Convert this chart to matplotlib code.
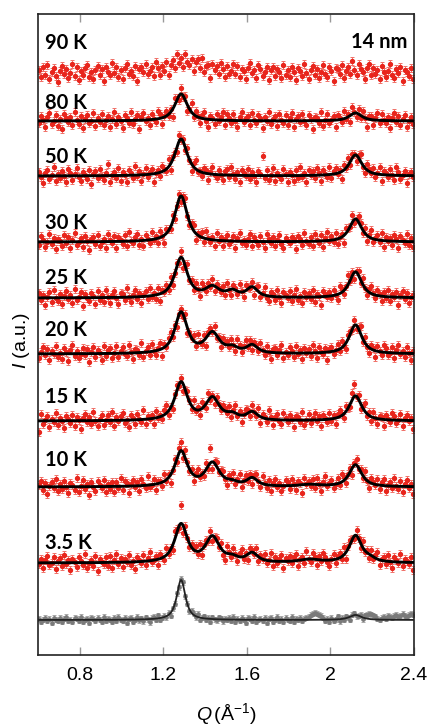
import numpy as np
import matplotlib
matplotlib.use('Agg')
import matplotlib.pyplot as plt

plt.rcParams['font.family'] = ['Liberation Sans', 'DejaVu Sans']
plt.rcParams['mathtext.fontset'] = 'custom'
plt.rcParams['mathtext.rm'] = 'Liberation Sans'
plt.rcParams['mathtext.it'] = 'Liberation Sans:italic'

# temperatures, top to bottom
temps = ['90 K', '80 K', '50 K', '30 K', '25 K', '20 K', '15 K', '10 K', '3.5 K']

# peaks of the fits (Q in 1/A), half widths
peak_q = [1.285, 1.32, 1.435, 1.53, 1.625, 1.90, 2.12, 2.19]
peak_hwhm = [0.036, 0.10, 0.040, 0.032, 0.032, 0.06, 0.036, 0.03]

# peak heights for each temperature (a.u.)
peak_heights = [
    [4, 9, 0, 0, 0, 0, 3, 0],        # 90 K (no fit drawn)
    [27, 0, 0, 0, 0, 0, 8, 0],       # 80 K
    [37, 0, 0, 0, 0, 0, 21, 0],      # 50 K
    [46, 0, 0, 0, 0, 0, 23, 0],      # 30 K
    [40, 0, 10, 6, 10, 0, 26, 0],    # 25 K
    [41, 0, 20, 5, 8, 0, 29, 0],     # 20 K
    [38, 0, 22, 5, 8, 0, 25, 0],     # 15 K
    [35, 0, 23, 3, 8, 2, 22, 0],     # 10 K
    [38, 0, 25, 4, 9, 3, 27, 3],     # 3.5 K
]

# bulk reference pattern (grey)
bulk_q = [1.285, 2.12]
bulk_heights = [40, 5]
bulk_hwhm = [0.025, 0.035]

# measured points minus fit, one list per temperature (Q step 0.01)
res_90 = [3, -4, 6, -2, 8, -6, 1, 5, -3, -9, 2, 7, -1, 4, -5, 0, 9, -3, 6, -7,
          2, -2, 5, 8, -4, 1, -6, 3, 7, -2, 4, -8, 6, 0, -3, 9, -1, 5, -5, 2,
          -7, 4, 8, -2, 1, -4, 6, -9, 3, 5, -1, 7, -3, 0, 4, -6, 8, 2, -5, 3,
          -2, 6, -8, 1, 5, -4, 9, -1, 3, -6, 7, 0, -3, 4, -7, 2, 6, -2, 8, -5,
          1, 3, -9, 5, -1, 4, -4, 7, 2, -6, 5, -3, 0, 8, -2, 6, -5, 3, 1, -7,
          4, 9, -1, 2, -6, 7, 3, -4, 0, 5, -8, 2, 6, -3, 4, 1, -5, 8, -2, 3,
          -4, 6, 1, -7, 5, 2, -3, 9, 0, -6, 3, 7, -2, 4, -5, 1, 8, -1, -4, 6,
          2, -8, 5, 3, -2, 7, -6, 1, 4, -3, 9, 0, -5, 6, 2, -1, -7, 4, 8, -3,
          5, -1, 3, -6, 7, 1, -4, 2, 9, -2, -5, 4, 0, 6, -8, 3, 1, -3, 5, -6]
res_80 = [-2, 5, 1, -6, 4, 8, -3, 0, 6, -5, 2, -8, 7, 3, -1, 4, -4, 9, 1, -3,
          5, -7, 2, 6, -2, 0, 8, -5, 3, -1, 7, -4, 1, 5, -6, 2, 9, -3, 4, 0,
          -7, 6, 3, -2, 8, -4, 1, 5, -9, 3, 7, -1, 2, -5, 6, 0, -3, 8, 4, -6,
          1, 5, -2, 3, -8, 7, 2, -4, 6, -1, 4, -6, 0, 9, -3, 5, 1, -5, 3, 7,
          -2, -8, 4, 2, -4, 6, -1, 3, 8, -5, 6, 2, -3, 7, 0, -6, 4, 9, -1, 3,
          5, -4, 8, 1, -2, 6, 3, -7, 4, 0, 9, -3, 2, 5, -5, 7, 1, -2, 6, -4,
          3, 8, -6, 2, 5, -1, 7, 0, -4, 6, 2, -8, 4, 3, -2, 9, -5, 1, 6, -3,
          0, 4, -7, 5, 2, -3, 8, -1, 3, -6, 7, 1, -4, 5, -2, 6, 0, -8, 3, 4,
          -5, 2, 7, -3, 6, 1, -2, 4, -7, 3, 8, -1, 5, -4, 2, 6, -6, 0, 4, -3]
res_50 = [4, -1, -7, 3, 6, -3, 1, 9, -5, 2, -2, 5, 0, -6, 7, 3, -4, 2, 8, -1,
          -5, 4, 1, -3, 6, -8, 2, 5, -2, 7, 0, -4, 3, 12, -6, 1, 4, -2, 8, -5,
          3, 0, -7, 5, 2, -3, 9, -1, 4, -6, 1, 7, -3, 2, 5, -8, 0, 3, -4, 6,
          1, -2, 8, -6, 4, 2, -5, 7, -1, 3, -3, 6, 0, -7, 4, 9, -2, 1, -4, 5,
          3, -6, 2, 7, -1, -3, 5, 0, -5, 4, 6, -2, 8, 1, -4, 3, -7, 5, 2, -1,
          7, -3, 4, 0, -6, 5, 2, 20, -2, 6, -4, 1, 8, -5, 3, 0, -3, 7, 2, -6,
          4, 1, -5, 6, -2, 9, -1, 3, -7, 5, 0, 4, -3, 7, 2, -6, 5, 1, -2, 8,
          -4, 3, 6, -1, 2, -8, 5, 0, 7, -3, 4, 1, -6, 3, 8, -2, -5, 6, 2, -1,
          5, -3, 1, 7, -6, 4, 2, -2, 6, 0, -5, 8, 3, -4, 1, 5, -7, 2, 4, -1]
res_30 = [-3, 6, 2, -5, 0, 8, -2, 4, -7, 3, 1, -4, 7, -1, 5, -6, 2, 9, -3, 0,
          4, -5, 6, 1, -8, 3, 5, -2, 7, -4, 0, 3, -6, 8, 2, -1, 5, -7, 4, 1,
          -3, 6, -5, 9, 0, -2, 4, 7, -4, 2, -6, 5, 1, -3, 8, -1, 3, -5, 6, 0,
          -8, 4, 2, -2, 7, -4, 1, 5, -6, 3, 9, -1, -3, 4, 6, -7, 2, 0, 5, -4,
          8, 1, -2, 3, -6, 7, -1, 4, -5, 2, 6, -3, 0, 5, -7, 3, 8, -2, 1, -4,
          2, 7, -5, 4, 1, -3, 6, 0, -6, 8, 3, -1, 5, -4, 2, 7, -2, -6, 4, 1,
          -1, 5, 3, -7, 6, 2, -4, 8, 0, -3, 4, -5, 7, 1, -2, 6, -6, 3, 9, -1,
          4, -2, 6, -5, 1, 3, -8, 5, 2, -1, 7, -4, 0, 6, 3, -3, 5, -6, 2, 8,
          -3, 1, 5, -2, 7, -6, 4, 0, 3, -4, 6, 2, -7, 5, 1, -1, 8, -3, 4, -5]
res_25 = [5, -2, 3, -7, 1, 6, -4, 8, 0, -3, 4, -6, 2, 7, -1, 3, -5, 9, -2, 1,
          6, -8, 4, 0, -3, 5, 2, -6, 7, -2, 3, -4, 8, 1, -5, 2, 6, -1, -7, 4,
          3, -3, 9, 0, -5, 2, 7, -2, 4, -6, 1, 5, -3, 8, -1, 2, -4, 6, -7, 3,
          0, 5, -2, 7, -5, 1, 4, -3, 6, -8, 2, 9, -1, 3, -4, 5, 0, -6, 7, 2,
          -3, 4, -1, 6, -5, 3, 1, -2, 5, -4, 7, 0, -6, 4, 2, -3, 8, 1, -5, 6,
          2, -1, 5, -7, 3, 6, -4, 1, 8, -2, -5, 4, 3, -3, 7, 0, -6, 5, 2, -1,
          6, -4, 2, 8, -3, 1, -6, 5, 0, 4, -2, 7, -5, 3, 1, -8, 6, 2, -1, 4,
          -2, 5, 0, -6, 7, 3, -4, 2, 9, -1, 4, -7, 1, 5, -3, 6, 0, -5, 3, 8,
          1, -3, 6, 2, -5, 4, -1, 7, -4, 3, 0, 5, -8, 2, 6, -2, 4, -6, 1, 3]
res_20 = [-4, 2, 7, -1, 5, -6, 3, 0, 8, -3, 1, -5, 6, 2, -7, 4, 9, -2, 3, -4,
          0, 6, -1, 5, -8, 2, 7, -3, 4, 1, -6, 8, -2, 3, 5, -5, 0, 7, -4, 2,
          6, -1, -3, 8, 1, -6, 4, 3, -2, 9, -5, 1, 5, -3, 7, 0, -4, 2, 6, -7,
          3, -1, 5, 8, -2, 4, -6, 1, 3, -3, 7, -5, 2, 0, 6, -4, 9, 1, -2, 5,
          -8, 3, 4, -1, 7, -3, 2, -6, 5, 1, 4, -2, 6, 0, -5, 8, 3, -4, 2, 7,
          -1, 5, -6, 3, 2, -3, 7, 1, -4, 6, 0, -7, 4, 5, -2, 3, 8, -5, 1, -2,
          6, 2, -4, 7, -1, 3, -6, 5, 0, 4, -3, 8, 2, -5, 6, 1, -2, 4, -8, 3,
          5, -3, 1, 6, -2, 7, 0, -6, 4, 3, -1, 5, -4, 2, 8, -3, 6, -1, -5, 4,
          2, -6, 5, 1, -3, 7, 4, -2, 0, 6, -5, 3, 8, -1, 2, -4, 6, 0, -7, 3]
res_15 = [-11, 7, -3, 1, 5, -6, 2, -1, 8, -4, 3, 0, -7, 5, 2, -2, 6, -5, 4, 1,
          -8, 3, 7, -1, 4, -3, 9, 0, -5, 2, 6, -4, 1, 5, -2, 8, -6, 3, -1, 4,
          7, -3, 0, -7, 5, 2, -4, 6, 1, -2, 9, -5, 3, 0, 4, -6, 7, -1, 2, -3,
          5, 8, -4, 1, -6, 3, 6, -2, 4, -7, 0, 5, 2, -3, 8, -1, 3, -5, 6, 1,
          -4, 7, -2, 2, -6, 4, 0, -3, 5, 3, -1, 6, -5, 2, 8, -2, 4, -7, 1, 5,
          3, -4, 6, 0, -2, 7, -6, 4, 1, -3, 9, 2, -5, 3, 6, -1, -4, 7, 2, -2,
          5, 1, -7, 4, 3, -2, 8, -5, 0, 6, -3, 2, 7, -1, 4, -6, 5, 1, -3, 6,
          -2, 4, -6, 3, 7, 1, -4, 5, 0, -3, 6, 12, -1, 4, -5, 2, 8, -2, 3, -4,
          6, 0, -5, 3, 2, -7, 5, 1, -2, 7, 4, -3, 0, 6, -6, 2, 5, -1, 3, -8]
res_10 = [2, 6, -3, 4, -7, 1, 5, -1, 8, -4, 3, -2, 6, 0, -6, 4, 2, -3, 9, -5,
          1, 7, -2, 3, -8, 5, 0, -4, 6, 2, -1, 7, -5, 3, -3, 4, -6, 4, -2, 8,
          -4, 5, 3, -7, 2, 6, -1, 4, -5, 7, 1, -3, 9, -2, 0, 5, -6, 3, 2, -4,
          7, -1, 4, -8, 1, 6, -3, 5, 9, -5, 8, 2, -2, 4, -6, 3, 7, -1, 1, -4,
          6, -3, 15, -7, 2, 4, -2, 3, 5, -1, -6, 4, 0, 7, -3, 2, 8, -5, 1, 6,
          -2, 4, -7, 3, 6, 0, -4, 8, 1, -3, 5, -6, 2, 7, -1, 3, -5, 0, 6, 4,
          -3, 7, 1, -5, 4, 2, -8, 6, 0, 3, -2, 5, -4, 7, 1, -6, 3, 9, -1, 2,
          5, -4, 0, 6, -2, 8, 3, -5, 1, 4, -7, 2, 6, -1, 3, -3, 7, 0, -6, 5,
          2, -1, 6, -4, 3, 7, -5, 1, 4, -2, 8, 0, -3, 5, -6, 2, 6, -1, 3, -7]
res_35 = [-1, 4, -5, 3, 7, -2, 0, 6, -6, 2, 5, -3, 8, -1, 3, -7, 4, 1, -4, 6,
          2, -2, 9, -5, 0, 3, -3, 7, -8, 4, 1, -1, 5, -4, 6, -6, 2, 8, -2, 4,
          -5, 3, 0, 7, -3, 1, -7, 5, 2, -1, 6, -4, 3, 9, -2, 0, 4, -6, 5, 1,
          -3, 7, -1, 2, -5, 8, 3, -2, 18, -7, 6, 0, -4, 3, 1, 5, -3, 7, -6, 2,
          4, -1, 6, -5, 0, 3, -2, 5, -4, -8, 7, 2, -3, 6, 1, -5, 4, 8, -2, 3,
          -6, 5, 2, -1, 7, -4, 3, 0, 6, -3, 1, 8, -5, 4, -2, 2, 6, -7, 3, 0,
          5, -2, 4, 7, -6, 1, 3, -4, 8, 0, -3, 6, 2, -5, 4, -1, 7, 3, -2, -6,
          1, 6, -4, 3, 5, -2, 8, -7, 2, 4, 0, -3, 6, 1, -5, 7, -1, 3, -4, 5,
          -2, 3, 7, -5, 1, 4, -3, 6, 0, -6, 5, 2, -1, 8, -4, 3, 1, -2, 5, -8]
res_bulk = [1, -2, 0, 2, -1, 1, -3, 2, 0, -1, 2, -2, 1, 3, -1, 0, -2, 2, 1, -1,
            3, -2, 0, 1, -3, 2, 1, -1, 2, 0, -2, 3, -1, 1, 0, -2, 2, -1, 3, 0,
            -1, 2, -3, 1, 2, -2, 0, 3, -1, 1, -2, 2, 0, -3, 1, 2, -1, 3, -2, 0,
            1, -1, 2, -3, 1, 0, 2, -2, 1, 3, -1, 0, -2, 2, 1, -1, 3, -2, 0, 2,
            -1, 1, -3, 2, 0, -1, 2, 1, -2, 1, 0, 2, -1, 3, -2, 1, -1, 2, 0, -3,
            2, 1, -1, 3, -2, 0, 1, -1, 2, -3, 1, 2, -2, 0, 3, -1, 1, -2, 2, 0,
            -1, 3, -2, 1, 0, 2, -1, 1, 2, 3, 5, 6, 7, 6, 5, 4, 2, -1, 1, -2,
            2, -1, 0, 3, -2, 1, -1, 2, 0, -3, 1, 2, -1, 0, 2, -2, 3, 4, 5, 5,
            4, 3, 1, 0, 2, 3, 1, 4, 3, 2, 4, 5, 3, 4, 6, 4, 3, 5, 6, 5]
residuals = [res_90, res_80, res_50, res_30, res_25, res_20, res_15, res_10, res_35]

# vertical stacking
offsets = [582, 534, 479, 413, 357, 301, 234, 168, 92]
bulk_offset = 35
label_y = [612, 552, 498, 432, 377, 325, 258, 195, 112]

red = '#e8251c'
red_err = '#f07068'


def pvoigt(q, heights, centers, hwhm, eta=0.85):
    y = np.zeros_like(q)
    for h, c, w in zip(heights, centers, hwhm):
        x = (q - c) / w
        y += h * (eta / (1.0 + x ** 2) + (1 - eta) * np.exp(-np.log(2) * x ** 2))
    return y


fig = plt.figure(figsize=(4.33, 7.28), dpi=100)
ax = fig.add_axes([38 / 433, 73 / 728, 376 / 433, 641 / 728])

q_fit = np.linspace(0.6, 2.4, 700)

for i, t in enumerate(temps):
    res = np.array(residuals[i], dtype=float)
    q_obs = np.linspace(0.605, 2.395, len(res))
    y_obs = offsets[i] + pvoigt(q_obs, peak_heights[i], peak_q, peak_hwhm) + res
    ax.errorbar(q_obs, y_obs, yerr=4, fmt='o', ms=2.8, color=red, mec=red,
                ecolor=red_err, elinewidth=0.7, capsize=1.5, capthick=0.7, zorder=2)
    if i > 0:
        ax.plot(q_fit, offsets[i] + pvoigt(q_fit, peak_heights[i], peak_q, peak_hwhm),
                color='black', lw=2.1, zorder=3)
    ax.text(0.632, label_y[i], t, fontsize=14.5, fontweight='bold', family='Lato',
            ha='left', va='center')

# bulk pattern
res = np.array(res_bulk, dtype=float)
q_obs = np.linspace(0.605, 2.395, len(res))
y_obs = bulk_offset + pvoigt(q_obs, bulk_heights, bulk_q, bulk_hwhm) + res
ax.errorbar(q_obs, y_obs, yerr=2.5, fmt='o', ms=2.4, color='#7a7a7a', mec='#7a7a7a',
            ecolor='#a8a8a8', elinewidth=0.7, capsize=1.3, capthick=0.7, zorder=2)
ax.plot(q_fit, bulk_offset + pvoigt(q_fit, bulk_heights, bulk_q, bulk_hwhm),
        color='#222222', lw=1.3, zorder=3)

ax.text(2.367, 613, '14 nm', fontsize=14.5, fontweight='bold', family='Lato',
        ha='right', va='center')

ax.set_xlim(0.6, 2.4)
ax.set_ylim(0, 641)
ax.set_xticks([0.8, 1.2, 1.6, 2.0, 2.4])
ax.set_xticklabels(['0.8', '1.2', '1.6', '2', '2.4'])
ax.set_yticks([])
ax.tick_params(axis='x', direction='in', top=True, length=6, width=1,
               color='#999999', labelsize=14, pad=9)
for s in ax.spines.values():
    s.set_linewidth(1.2)
    s.set_color('#222222')

ax.set_xlabel(r'$\mathit{Q}\,$(Å$^{-1}$)', fontsize=14)
ax.xaxis.set_label_coords(0.5, -0.072)
ax.set_ylabel(r'$\mathit{I}$ (a.u.)', fontsize=14)
ax.yaxis.set_label_coords(-0.016, 0.49)

fig.savefig('out.png', dpi=100)
